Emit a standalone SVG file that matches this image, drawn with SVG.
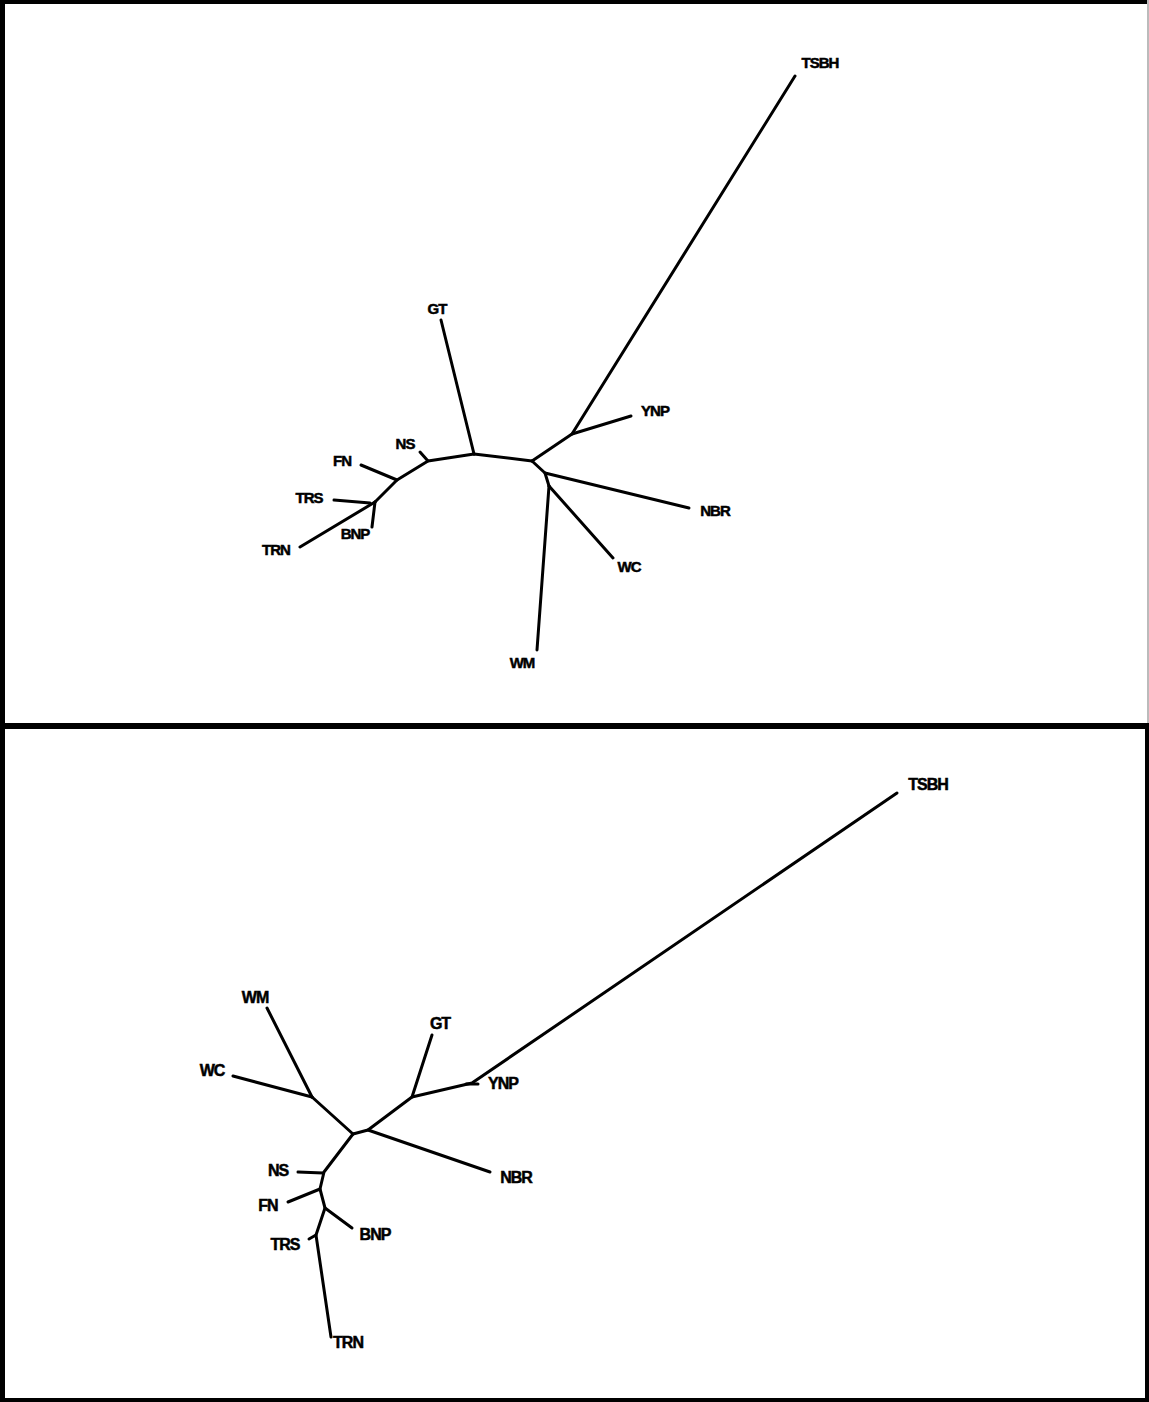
<svg xmlns="http://www.w3.org/2000/svg" width="1149" height="1402" viewBox="0 0 1149 1402">
<style>
.e{fill:none;stroke:#000;stroke-width:3;stroke-linecap:round;stroke-linejoin:round}
.t{font-family:"Liberation Sans",Arial,sans-serif;font-weight:bold;font-size:15px;fill:#000;stroke:#000;stroke-width:0.5;text-anchor:middle;letter-spacing:-1px}
.b{font-size:16px}
</style>
<rect width="1149" height="1402" fill="#fff"/>
<g id="frame">
<rect x="0" y="0" width="1149" height="4" fill="#000"/>
<rect x="0" y="0" width="5" height="1402" fill="#000"/>
<rect x="1147" y="0" width="2" height="723" fill="#bbb"/>
<rect x="0" y="723" width="1149" height="6" fill="#000"/>
<rect x="1145" y="723" width="4" height="679" fill="#000"/>
<rect x="0" y="1398" width="1149" height="4" fill="#000"/>
</g>
<g id="connectors-top">
<polyline class="e" points="795,76 572,434 532,461"/>
<line class="e" x1="631" y1="416" x2="572" y2="434"/>
<polyline class="e" points="532,461 474,454 428,461 397,480 375,502"/>
<line class="e" x1="441" y1="320" x2="474" y2="454"/>
<line class="e" x1="420" y1="452" x2="428" y2="461"/>
<line class="e" x1="361" y1="465" x2="397" y2="480"/>
<line class="e" x1="334" y1="500" x2="370" y2="503"/>
<line class="e" x1="300" y1="547" x2="375" y2="502"/>
<line class="e" x1="375" y1="502" x2="372" y2="527"/>
<polyline class="e" points="532,461 545,473 549,486"/>
<line class="e" x1="545" y1="473" x2="689" y2="508"/>
<line class="e" x1="549" y1="486" x2="613" y2="558"/>
<line class="e" x1="549" y1="486" x2="537" y2="650"/>
</g>
<g id="connectors-bottom">
<polyline class="e" points="897,793 472,1083 412,1097 368,1130 353,1134"/>
<line class="e" x1="466" y1="1084" x2="478" y2="1084"/>
<line class="e" x1="412" y1="1097" x2="432" y2="1035"/>
<line class="e" x1="368" y1="1130" x2="490" y2="1172"/>
<line class="e" x1="353" y1="1134" x2="312" y2="1097"/>
<line class="e" x1="312" y1="1097" x2="267" y2="1008"/>
<line class="e" x1="312" y1="1097" x2="233" y2="1076"/>
<polyline class="e" points="353,1134 324,1172 320,1189 325,1208 316,1235 331,1337"/>
<line class="e" x1="298" y1="1172" x2="323" y2="1173"/>
<line class="e" x1="288" y1="1202" x2="320" y2="1189"/>
<line class="e" x1="325" y1="1208" x2="352" y2="1228"/>
<line class="e" x1="309" y1="1239" x2="316" y2="1235"/>
</g>
<g id="top-TSBH"><text class="t" x="820" y="68">TSBH</text></g>
<g id="top-YNP"><text class="t" x="655" y="416">YNP</text></g>
<g id="top-NBR"><text class="t" x="715" y="516">NBR</text></g>
<g id="top-WC"><text class="t" x="629" y="572">WC</text></g>
<g id="top-WM"><text class="t" x="522" y="668">WM</text></g>
<g id="top-GT"><text class="t" x="437" y="314">GT</text></g>
<g id="top-NS"><text class="t" x="405" y="449">NS</text></g>
<g id="top-FN"><text class="t" x="342" y="466">FN</text></g>
<g id="top-TRS"><text class="t" x="309" y="503">TRS</text></g>
<g id="top-BNP"><text class="t" x="355" y="539">BNP</text></g>
<g id="top-TRN"><text class="t" x="276" y="555">TRN</text></g>
<g id="bot-TSBH"><text class="t b" x="928" y="790">TSBH</text></g>
<g id="bot-GT"><text class="t b" x="440" y="1029">GT</text></g>
<g id="bot-YNP"><text class="t b" x="503" y="1089">YNP</text></g>
<g id="bot-NBR"><text class="t b" x="516" y="1183">NBR</text></g>
<g id="bot-WM"><text class="t b" x="255" y="1003">WM</text></g>
<g id="bot-WC"><text class="t b" x="212" y="1076">WC</text></g>
<g id="bot-NS"><text class="t b" x="278" y="1176">NS</text></g>
<g id="bot-FN"><text class="t b" x="268" y="1211">FN</text></g>
<g id="bot-BNP"><text class="t b" x="375" y="1240">BNP</text></g>
<g id="bot-TRS"><text class="t b" x="285" y="1250">TRS</text></g>
<g id="bot-TRN"><text class="t b" x="348" y="1348">TRN</text></g>
</svg>
